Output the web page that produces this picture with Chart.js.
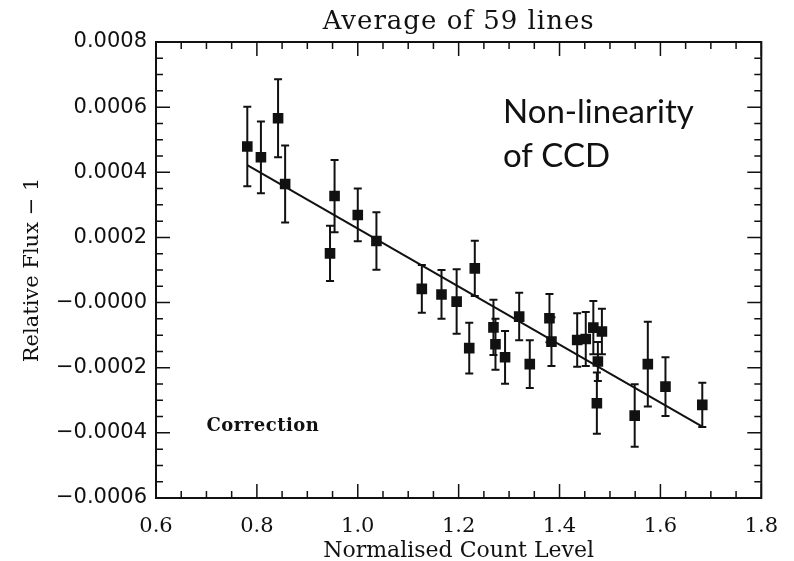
<!DOCTYPE html>
<html>
<head>
<meta charset="utf-8">
<script src="https://cdn.jsdelivr.net/npm/chart.js@4.4.1/dist/chart.umd.min.js"></script>
<style>
  html, body { margin: 0; padding: 0; background: #fff; }
</style>
</head>
<body>
<canvas id="chart" width="794" height="561"></canvas>
<script>
// values
const countLevel = [0.781, 0.808, 0.842, 0.856, 0.945, 0.954, 1.000, 1.037, 1.127, 1.166,
  1.196, 1.221, 1.232, 1.269, 1.273, 1.292, 1.320, 1.341, 1.380, 1.384,
  1.435, 1.452, 1.467, 1.476, 1.474, 1.484, 1.549, 1.575, 1.610, 1.683];
const relFlux = [0.000479, 0.000446, 0.000566, 0.000364, 0.000151, 0.000327, 0.000269, 0.000189, 0.000042, 0.000025,
  0.000003, -0.000140, 0.000105, -0.000076, -0.000128, -0.000168, -0.000043, -0.000189, -0.000048, -0.000120,
  -0.000115, -0.000112, -0.000077, -0.000181, -0.000309, -0.000089, -0.000347, -0.000189, -0.000258, -0.000314];
const fluxErr = [0.000122, 0.000110, 0.000120, 0.000118, 0.000085, 0.000111, 0.000081, 0.000088, 0.000073, 0.000075,
  0.000099, 0.000078, 0.000085, 0.000085, 0.000078, 0.000081, 0.000073, 0.000073, 0.000074, 0.000075,
  0.000082, 0.000083, 0.000082, 0.000060, 0.000094, 0.000070, 0.000096, 0.000130, 0.000090, 0.000068];

const fitX = [0.781, 1.683];
const fitY = [0.000422, -0.000381];

const xTicks = [0.6, 0.8, 1.0, 1.2, 1.4, 1.6, 1.8];
const yTicks = [-0.0006, -0.0004, -0.0002, 0, 0.0002, 0.0004, 0.0006, 0.0008];

const ink = "#111";

function fmtY(v) {
  if (Math.abs(v) < 1e-12) return "\u22120.0000";
  return (v < 0 ? "\u2212" : "") + Math.abs(v).toFixed(4);
}

// vertical error bars with small caps
const errorBars = {
  id: "errorBars",
  beforeDatasetsDraw(chart) {
    const { ctx, scales: { x, y } } = chart;
    ctx.save();
    ctx.strokeStyle = ink;
    ctx.lineWidth = 2;
    countLevel.forEach((cx, i) => {
      const px = x.getPixelForValue(cx);
      const top = y.getPixelForValue(relFlux[i] + fluxErr[i]);
      const bot = y.getPixelForValue(relFlux[i] - fluxErr[i]);
      ctx.beginPath();
      ctx.moveTo(px, top); ctx.lineTo(px, bot);
      ctx.moveTo(px - 4, top); ctx.lineTo(px + 4, top);
      ctx.moveTo(px - 4, bot); ctx.lineTo(px + 4, bot);
      ctx.stroke();
    });
    ctx.restore();
  }
};

// box, inward ticks, and free text
const frame = {
  id: "frame",
  afterDraw(chart) {
    const { ctx, chartArea: a, scales: { x, y } } = chart;
    ctx.save();
    ctx.strokeStyle = ink;
    ctx.lineWidth = 2;
    ctx.strokeRect(a.left, a.top, a.right - a.left, a.bottom - a.top);

    ctx.lineWidth = 1.5;
    ctx.beginPath();
    const xStep = xTicks[1] - xTicks[0];
    for (let i = 0; i < xTicks.length; i++) {
      for (let k = 0; k < 4; k++) {
        if (k > 0 && i === xTicks.length - 1) break;
        const px = x.getPixelForValue(xTicks[i] + k * xStep / 4);
        const len = k === 0 ? 14 : 7;
        ctx.moveTo(px, a.bottom); ctx.lineTo(px, a.bottom - len);
        ctx.moveTo(px, a.top); ctx.lineTo(px, a.top + len);
      }
    }
    const yStep = yTicks[1] - yTicks[0];
    for (let i = 0; i < yTicks.length; i++) {
      for (let k = 0; k < 4; k++) {
        if (k > 0 && i === yTicks.length - 1) break;
        const py = y.getPixelForValue(yTicks[i] + k * yStep / 4);
        const len = k === 0 ? 14 : 7;
        ctx.moveTo(a.left, py); ctx.lineTo(a.left + len, py);
        ctx.moveTo(a.right, py); ctx.lineTo(a.right - len, py);
      }
    }
    ctx.stroke();

    ctx.fillStyle = ink;
    ctx.textBaseline = "middle";
    ctx.textAlign = "center";
    ctx.letterSpacing = "1px";
    ctx.font = "26px 'DejaVu Serif'";
    ctx.fillText("Average of 59 lines", (a.left + a.right) / 2, 22);

    ctx.textAlign = "left";
    ctx.letterSpacing = "0.5px";
    ctx.font = "bold 18px 'DejaVu Serif'";
    ctx.fillText("Correction", x.getPixelForValue(0.7), y.getPixelForValue(-0.00038));

    ctx.letterSpacing = "0px";
    ctx.textBaseline = "alphabetic";
    ctx.font = "33px Lato";
    ctx.fillText("Non-linearity", 503, 123);
    ctx.fillText("of CCD", 503, 167);
    ctx.restore();
  }
};

new Chart(document.getElementById("chart"), {
  type: "scatter",
  data: {
    datasets: [
      {
        data: countLevel.map((v, i) => ({ x: v, y: relFlux[i] })),
        pointStyle: "rect",
        pointRadius: 7.5,
        backgroundColor: ink,
        borderColor: ink,
        borderWidth: 0
      },
      {
        data: fitX.map((v, i) => ({ x: v, y: fitY[i] })),
        showLine: true,
        pointRadius: 0,
        borderColor: ink,
        borderWidth: 2
      }
    ]
  },
  options: {
    responsive: false,
    animation: false,
    layout: { padding: { top: 42, right: 31, left: 0, bottom: 0 } },
    plugins: { legend: { display: false }, tooltip: { enabled: false } },
    scales: {
      x: {
        type: "linear",
        min: 0.6,
        max: 1.8,
        afterBuildTicks: s => { s.ticks = xTicks.map(v => ({ value: v })); },
        afterFit: s => { s.height = 63; },
        grid: { display: false, drawTicks: false },
        border: { display: false },
        ticks: {
          padding: 16,
          color: ink,
          font: { family: "DejaVu Serif", size: 21 },
          maxRotation: 0,
          callback: v => v.toFixed(1)
        },
        title: {
          display: true,
          text: "Normalised Count Level",
          color: ink,
          font: { family: "DejaVu Serif", size: 22 },
          padding: { top: 0, bottom: -3 }
        }
      },
      y: {
        type: "linear",
        min: -0.0006,
        max: 0.0008,
        afterBuildTicks: s => { s.ticks = yTicks.map(v => ({ value: v })); },
        afterFit: s => { s.width = 156; },
        grid: { display: false, drawTicks: false },
        border: { display: false },
        ticks: {
          padding: 9,
          color: ink,
          font: { family: "DejaVu Sans", size: 21 },
          callback: v => fmtY(v)
        },
        title: {
          display: true,
          text: "Relative Flux \u2212 1",
          color: ink,
          font: { family: "DejaVu Serif", size: 21 },
          padding: { top: 20, bottom: 0 }
        }
      }
    }
  },
  plugins: [errorBars, frame]
});
</script>
</body>
</html>
